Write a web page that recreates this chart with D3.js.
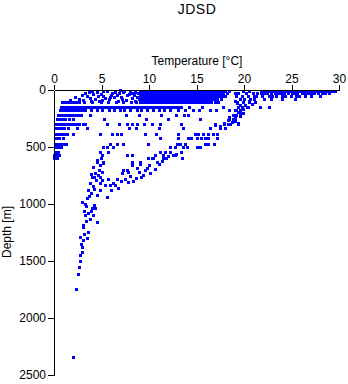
<!DOCTYPE html>
<html>
<head>
<meta charset="utf-8">
<script src="https://cdn.jsdelivr.net/npm/d3@7"></script>
<style>
  html, body { margin: 0; padding: 0; background: #fff; }
  svg { display: block; font-family: "Liberation Sans", Arial, sans-serif; }
</style>
</head>
<body>
<div id="chart"></div>
<script>
const tempTicks = [0, 5, 10, 15, 20, 25, 30];
const depthTicks = [0, 500, 1000, 1500, 2000, 2500];

// observations grouped by sampled depth level (m) -> temperatures (°C)
const depthLevels = [5, 30, 55, 80, 102, 150, 175, 215, 250, 300, 330, 390, 420, 470, 500, 540, 570, 600, 630];
const levelTemps = [
  [9.0,9.3,9.6,9.9,10.2,10.5,10.8,11.1,11.4,11.7,12.0,12.3,12.6,12.9,13.2,13.5,13.8,14.1,14.4,14.7,15.0,15.3,15.6,15.9,16.2,16.5,16.8,17.1,17.4,17.7,18.0,18.4,19.9,20.5,21.8,22.1,22.4,22.7,23.0,23.3,23.6,23.9,24.2,24.5,24.8,25.1,25.4,25.7,26.0,26.3,26.6,26.9,27.2,27.5,27.8,28.1,28.4,28.7,29.0,29.3,29.6],
  [8.8,9.1,9.4,9.7,10.0,10.3,10.6,10.9,11.2,11.5,11.8,12.1,12.4,12.7,13.0,13.3,13.6,13.9,14.2,14.5,14.8,15.1,15.4,15.7,16.0,16.3,16.6,16.9,17.2,17.5,17.8,18.2,19.0,19.4,20.2,20.9,21.4,21.8,22.1,22.4,22.8,23.3,23.6,23.9,24.2,24.6,25.0,25.3,25.6,26.1,26.4,26.7,27.0,27.4,27.8,28.2,28.5,28.9],
  [9.0,9.3,9.6,9.9,10.2,10.5,10.8,11.1,11.4,11.7,12.0,12.3,12.6,12.9,13.2,13.5,13.8,14.1,14.4,14.7,15.0,15.3,15.6,15.9,16.2,16.5,16.8,17.1,17.4,17.7,18.0,19.2,19.8,20.4,21.0,21.3,21.9,22.6,22.9,23.4,24.0,24.3,24.9,25.5,25.8,26.4,27.1,28.0],
  [9.1,9.4,9.7,10.0,10.3,10.6,10.9,11.2,11.5,11.8,12.1,12.4,12.7,13.0,13.3,13.6,13.9,14.2,14.5,14.8,15.1,15.4,15.7,16.0,16.3,16.6,16.9,17.2,17.6,19.6,20.0,20.6,21.1,22.1,22.8,24.0,25.4],
  [0.8,1.1,1.4,1.7,2.0,2.3,2.6,3.2,4.0,4.9,5.7,6.5,7.3,8.1,8.6,9.0,9.3,9.6,9.9,10.2,10.5,10.8,11.1,11.4,11.7,12.0,12.3,12.6,12.9,13.2,13.5,13.8,14.1,14.4,14.7,15.0,15.3,15.6,15.9,16.2,16.5,16.9,17.3,19.3,19.9,20.5,21.2],
  [0.7,1.0,1.3,1.6,1.9,2.2,2.5,2.8,3.1,3.4,3.7,4.0,4.3,4.6,4.9,5.2,5.5,5.8,6.1,6.4,6.7,7.0,7.3,7.6,7.9,8.2,8.5,8.8,9.1,9.4,9.7,10.0,10.3,10.6,10.9,11.2,11.5,11.8,12.1,12.4,12.7,13.0,13.4,14.2,15.6,17.8,19.4,19.8,20.3,21.7,22.6],
  [0.6,0.9,1.2,1.5,1.8,2.1,2.4,2.7,3.0,3.3,3.9,4.5,5.1,5.8,6.3,6.9,7.4,8.0,8.7,9.2,9.8,10.4,11.0,11.6,12.2,13.0,13.8,14.6,15.3,16.4,17.1,18.4,19.1,19.6],
  [0.4,0.7,1.0,1.3,1.6,1.9,2.2,2.5,2.8,3.8,7.6,8.9,11.3,12.8,13.7,14.1,18.8,19.2,19.6],
  [0.3,0.6,0.9,1.2,1.6,2.0,5.3,9.7,12.0,15.4,18.4,18.8,19.1],
  [0.2,0.5,0.8,1.1,1.4,1.7,2.0,2.3,2.6,3.0,3.3,5.6,6.8,7.7,8.2,8.7,9.5,10.3,11.2,13.4,16.9,17.9,18.3,19.4],
  [0.2,0.5,0.8,1.1,1.5,2.4,3.5,7.9,8.6,11.0,13.6,16.4,17.5,18.0],
  [0.2,0.5,0.8,1.1,1.4,2.0,4.8,6.1,6.6,7.1,9.6,10.7,13.1,14.8,15.2,15.7,16.2,16.7,17.2],
  [0.2,0.5,0.9,11.2,13.1,14.1,14.4,15.1,15.5,15.9,16.2,17.2],
  [0.1,0.4,0.7,1.0,1.3,5.9,6.6,7.3,9.9,12.9,13.3,13.8,15.9,16.2,16.8],
  [0.1,0.4,0.7,5.2,5.6,6.2,12.2,12.7,13.6,14.0,15.1,15.4],
  [0.1,0.4,4.8,5.7,11.2,11.7,12.2],
  [0.0,0.3,0.5,5.0,7.7,8.2,10.6,11.5,12.5,12.7],
  [0.0,0.3,4.9,9.9,10.3,10.4,11.5,13.5],
  [4.5,5.2,8.2,9.1,10.8]
];

// scattered casts, [temperature °C, depth m]
const upperScatter = [
  [3.7,18],[4.5,18],[5.2,9],[6.4,18],[6.9,0],[8.0,9],[8.5,18],[7.7,44],[2.2,61],[3.1,88],
  [3.8,70],[4.6,53],[5.4,70],[5.9,61],[6.6,44],[7.2,79],[8.2,70],[8.7,61],[8.5,96],[4.1,35],
  [6.1,26],[1.7,88],[1.2,105],[3.3,26],[4.0,9],[4.9,35],[5.6,9],[6.0,44],[6.8,26],[7.4,9],
  [7.9,35],[8.4,44],[3.5,53],[4.3,79],[5.0,88],[5.8,79],[6.3,61],[7.0,61],[7.6,88],[8.9,79],
  [2.6,79],[2.9,44],[4.7,96],[6.7,96],[5.2,53],[8.2,26],[7.3,18],[3.9,96]
];
const warmBranch = [
  [19.6,132],[20.1,130],[19.8,160],[19.4,190],[19.9,200],[19.1,246],[19.4,289],[18.7,280],
  [18.3,265],[17.9,290],[17.5,315],[16.9,307],[18.4,240],[18.8,215],[19.6,202],[19.0,100],
  [19.3,110],[20.8,120],[20.5,100],[19.6,230],[19.0,270],[18.5,300],[18.9,255],[19.9,170],
  [20.4,145],[19.2,175]
];
const deepScatter = [
  [9.4,745],[9.8,684],[10.1,728],[9.6,700],[8.7,684],[8.2,660],[7.7,700],[7.3,700],[7.8,720],
  [7.2,730],[6.6,780],[7.0,795],[7.8,807],[6.4,833],[5.9,833],[5.4,833],[4.8,815],[6.7,860],
  [6.2,820],[5.7,780],[8.6,770],[5.1,790],[6.0,880],
  [11.0,650],[10.6,690],[11.4,620],[9.2,760],[8.9,720],[8.0,750],[7.5,780],[8.3,800],
  [9.1,650],[10.0,660],[12.0,580],[12.8,560],[13.4,540],[11.8,600],
  [4.5,614],[4.8,658],[4.1,675],[5.2,640],[4.3,728],[5.1,719],[4.6,745],[4.0,760],[4.4,790],
  [3.8,815],[4.1,840],[3.6,877],[4.5,920],[5.6,940],[3.5,950],[3.9,900],[3.3,1000],[2.9,985],
  [4.7,700],[4.2,760],[3.9,740],[4.8,760],[4.2,870],[3.7,930],[4.8,880],[3.4,1020],
  [3.9,1060],[3.3,1100],[3.5,1300],[2.9,1420],
  [4.0,1035],[4.3,1035],[3.6,1080],[3.2,1060],[4.5,1160],[3.1,1200],[3.6,1245],[3.4,1150],
  [3.0,1180],[4.2,1010],[3.8,1130],[4.1,1100],[3.2,1260],[2.7,1290],[3.0,1320],[2.8,1350],
  [2.9,1380],[2.7,1450],[2.7,1500],[2.6,1555],[2.5,1615],[2.3,1745],[2.0,2340]
];

const width = 348, height = 384;

const svg = d3.select("#chart")
  .append("svg")
  .attr("width", width)
  .attr("height", height);

const x = d3.scaleLinear().domain([0, 30]).range([54, 339]);
const y = d3.scaleLinear().domain([0, 2500]).range([90, 375]);

const points = [];
depthLevels.forEach((d, i) => levelTemps[i].forEach(t => points.push({ t, d })));
upperScatter.concat(warmBranch, deepScatter).forEach(([t, d]) => points.push({ t, d }));

svg.append("g")
  .selectAll("rect")
  .data(points)
  .join("rect")
  .attr("x", d => Math.round(x(d.t)) - 1)
  .attr("y", d => Math.round(y(d.d)) - 1)
  .attr("width", 3)
  .attr("height", 3)
  .attr("fill", "#0000ff")
  .attr("shape-rendering", "crispEdges");

const xAxis = svg.append("g")
  .attr("transform", "translate(0,90)")
  .call(d3.axisTop(x).tickValues(tempTicks).tickSize(5).tickSizeOuter(0).tickPadding(2));

const yAxis = svg.append("g")
  .attr("transform", "translate(54,0)")
  .call(d3.axisLeft(y).tickValues(depthTicks).tickFormat(d3.format("d"))
    .tickSize(6).tickSizeOuter(0).tickPadding(2));

[xAxis, yAxis].forEach(a => {
  a.attr("font-size", 12).attr("font-family", "'Liberation Sans', Arial, sans-serif");
  a.selectAll("path, line").attr("stroke", "#000").attr("shape-rendering", "crispEdges");
  a.selectAll("text").attr("fill", "#000");
});

svg.append("text")
  .attr("x", 197)
  .attr("y", 14)
  .attr("text-anchor", "middle")
  .attr("font-size", 14)
  .attr("letter-spacing", 0.5)
  .text("JDSD");

svg.append("text")
  .attr("x", 197)
  .attr("y", 65)
  .attr("text-anchor", "middle")
  .attr("font-size", 12)
  .text("Temperature [°C]");

svg.append("text")
  .attr("transform", "translate(11,232) rotate(-90)")
  .attr("text-anchor", "middle")
  .attr("font-size", 12)
  .text("Depth [m]");
</script>
</body>
</html>
